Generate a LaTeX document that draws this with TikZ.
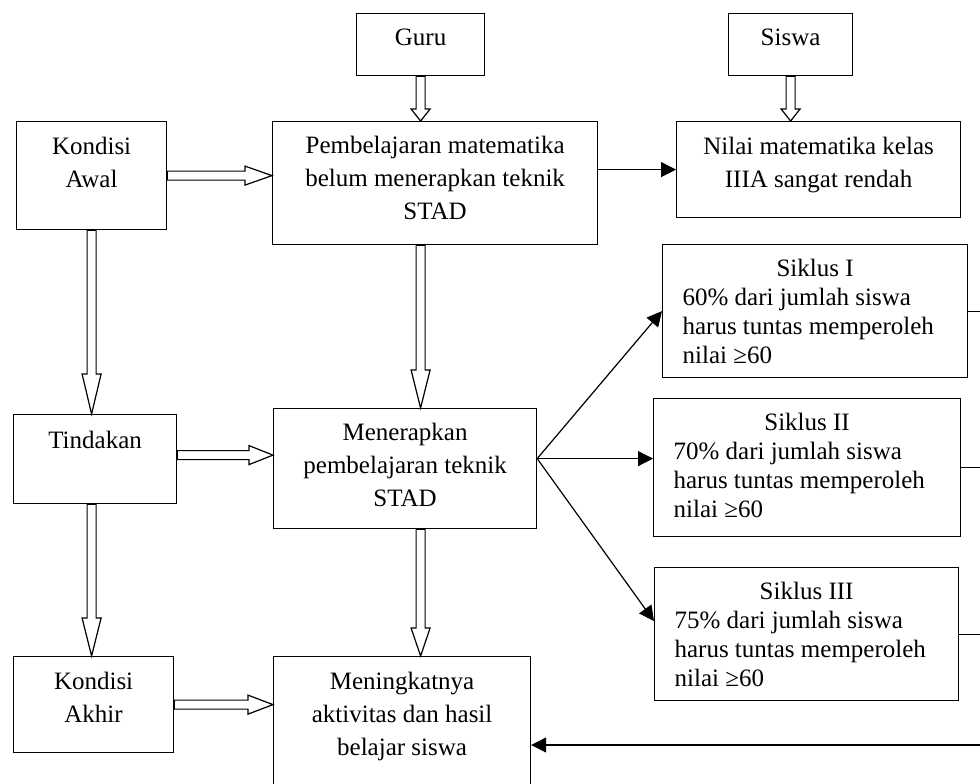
\documentclass[tikz,border=0pt]{standalone}
\usepackage{fontspec}
\setmainfont{Liberation Serif}
\usetikzlibrary{arrows.meta,calc}

\newcommand{\isi}[4]{\parbox[c][#2][t]{#1}{\centering\rule{0pt}{#3}#4}}
\newcommand{\siklusisi}[4]{\parbox[c][#2][t]{#1}{\fontsize{12.5}{14.5}\selectfont
    \centerline{\rule{0pt}{16pt}#3}\leftskip=10pt #4}}

\newcommand{\panahbawah}[3]{%
    \draw[blok] let \p1=(#1), \p2=(#2) in
        (\x1-2.25pt,\y1) -- (\x1-2.25pt,\y2+#3) -- (\x1-4.75pt,\y2+#3) -- (\x1,\y2)
        -- (\x1+4.75pt,\y2+#3) -- (\x1+2.25pt,\y2+#3) -- (\x1+2.25pt,\y1) -- cycle;}
\newcommand{\panahkanan}[3]{%
    \draw[blok] let \p1=(#1), \p2=(#2) in
        (\x1,\y1+2.25pt) -- (\x2-#3,\y1+2.25pt) -- (\x2-#3,\y1+4.75pt) -- (\x2,\y1)
        -- (\x2-#3,\y1-4.75pt) -- (\x2-#3,\y1-2.25pt) -- (\x1,\y1-2.25pt) -- cycle;}

\tikzset{
    every node/.style={font={\fontsize{12.5}{16.5}\selectfont}},
    kotak/.style={draw, line width=0.6pt, inner sep=0pt, anchor=north west},
    panah/.style={line width=0.6pt, -{Triangle[length=7.5pt,width=7.5pt]}},
    garis/.style={line width=0.6pt},
    blok/.style={draw, fill=white, line width=0.6pt, line join=miter}
}

\begin{document}
\begin{tikzpicture}[x=0.5pt, y=-0.5pt]
        \useasboundingbox (0,0) rectangle (980,783);
        \node[kotak] (guru) at (356,13) {\isi{64pt}{31pt}{16pt}{Guru}};
        \node[kotak] (siswa) at (728,13) {\isi{62pt}{31pt}{16pt}{Siswa}};
        \node[kotak] (awal) at (16,121) {\isi{75pt}{54pt}{16.5pt}{Kondisi\\Awal}};
        \node[kotak] (pemb) at (272,121) {\isi{162.5pt}{61.5pt}{16pt}{Pembelajaran matematika\\belum menerapkan teknik\\STAD}};
        \node[kotak] (nilai) at (676,121) {\isi{142pt}{48pt}{16.5pt}{Nilai matematika kelas\\IIIA sangat rendah}};
        \node[kotak] (siklus1) at (662,244) {\siklusisi{152.5pt}{66.5pt}{Siklus I}{60\% dari jumlah siswa\\harus tuntas memperoleh\\nilai ≥60}};
        \node[kotak] (siklus2) at (653,398) {\siklusisi{153.5pt}{69pt}{Siklus II}{70\% dari jumlah siswa\\harus tuntas memperoleh\\nilai ≥60}};
        \node[kotak] (siklus3) at (654,567) {\siklusisi{152pt}{66.5pt}{Siklus III}{75\% dari jumlah siswa\\harus tuntas memperoleh\\nilai ≥60}};
        \node[kotak] (tindakan) at (13,414) {\isi{81.5pt}{44.5pt}{17pt}{Tindakan}};
        \node[kotak] (menerapkan) at (273,408) {\isi{131.5pt}{60pt}{16pt}{Menerapkan\\pembelajaran teknik\\STAD}};
        \node[kotak] (akhir) at (13,656) {\isi{80pt}{48pt}{16.5pt}{Kondisi\\Akhir}};
        \node[kotak] (meningkat) at (273,656) {\isi{128.5pt}{75pt}{16.5pt}{Meningkatnya\\aktivitas dan hasil\\belajar siswa}};

        \coordinate (tepi) at (980,0);
        \coordinate (balik) at (980,745);
        \coordinate (cabang) at ([yshift=5pt]menerapkan.east);

        \panahbawah{guru.south}{pemb.north}{6pt}
        \panahbawah{siswa.south}{nilai.north}{6pt}
        \panahbawah{awal.south}{tindakan.north}{20pt}
        \panahbawah{tindakan.south -| awal.south}{akhir.north}{19pt}
        \panahbawah{pemb.south -| guru.south}{menerapkan.north}{19pt}
        \panahbawah{menerapkan.south -| guru.south}{meningkat.north}{14pt}
        \panahkanan{awal.east}{pemb.west}{13.5pt}
        \panahkanan{[yshift=2pt]tindakan.east}{menerapkan.west}{12pt}
        \panahkanan{akhir.east}{meningkat.west}{12.5pt}

        \draw[panah] (pemb.east |- nilai.west) -- (nilai.west);
        \draw[panah] (cabang) -- (siklus1.west);
        \draw[panah] (cabang) -- (siklus2.west |- cabang);
        \draw[panah] (cabang) -- ([yshift=6.5pt]siklus3.west);
        \draw[garis] (siklus1.east) -- (siklus1.east -| tepi);
        \draw[garis] (siklus2.east) -- (siklus2.east -| tepi);
        \draw[garis] (siklus3.east) -- (siklus3.east -| tepi);
        \draw[panah] (balik) -- (meningkat.east |- balik);
    \end{tikzpicture}
\end{document}
